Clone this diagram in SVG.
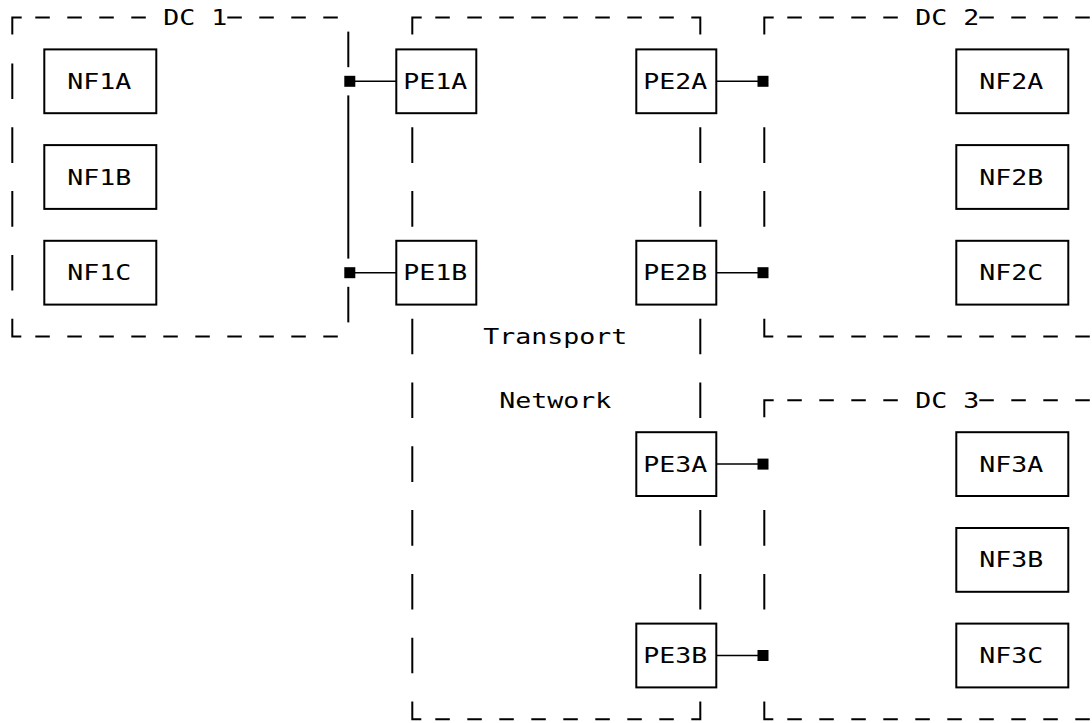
<svg xmlns="http://www.w3.org/2000/svg" width="1092" height="723" viewBox="0 0 1092 723">
<style>
  .bg { fill: #ffffff; }
  .t { font-family: "DejaVu Sans Mono", "Liberation Mono", monospace; font-size: 22px; fill: #000; }
  .ln { stroke: #000; stroke-width: 2; fill: none; stroke-linecap: butt; }
  .hd { stroke: #000; stroke-width: 2; fill: none; stroke-dasharray: 14.5 17.5; }
  .vd { stroke: #000; stroke-width: 2; fill: none; stroke-dasharray: 35.6 28.2; }
  .box { stroke: #000; stroke-width: 2; fill: none; }
  .con { stroke: #000; stroke-width: 1.5; fill: none; }
  .port { fill: #000; }
</style>
<rect class="bg" x="0" y="0" width="1092" height="723"/>

<!-- DC 1 -->
<g id="dc1">
  <path class="ln" d="M21.7,17.5 H12.3 V34.5"/>
  <line class="hd" x1="35.3" y1="17.5" x2="145.8" y2="17.5"/>
  <line class="hd" x1="227.3" y1="17.5" x2="337.8" y2="17.5"/>
  <text class="t" x="163.3" y="25" textLength="64" lengthAdjust="spacingAndGlyphs">DC 1</text>
  <line class="vd" x1="12.3" y1="63.5" x2="12.3" y2="290.5"/>
  <path class="ln" d="M12.3,318.7 V336.5 H21.3"/>
  <line class="hd" x1="35.3" y1="336.5" x2="337.8" y2="336.5"/>
  <line class="ln" x1="348.3" y1="31.6" x2="348.3" y2="67.2"/>
  <line class="ln" x1="348.3" y1="95.4" x2="348.3" y2="258.6"/>
  <line class="ln" x1="348.3" y1="286.8" x2="348.3" y2="322.4"/>
</g>

<g id="nf1a"><rect class="box" x="44.3" y="49.4" width="112" height="63.8"/><text class="t" x="67.3" y="88.8" textLength="64" lengthAdjust="spacingAndGlyphs">NF1A</text></g>
<g id="nf1b"><rect class="box" x="44.3" y="145.1" width="112" height="63.8"/><text class="t" x="67.3" y="184.5" textLength="64" lengthAdjust="spacingAndGlyphs">NF1B</text></g>
<g id="nf1c"><rect class="box" x="44.3" y="240.8" width="112" height="63.8"/><text class="t" x="67.3" y="280.2" textLength="64" lengthAdjust="spacingAndGlyphs">NF1C</text></g>

<!-- Transport network -->
<g id="transport">
  <path class="ln" d="M421.7,17.5 H412.3 V34.5"/>
  <line class="hd" x1="435.3" y1="17.5" x2="673.8" y2="17.5"/>
  <path class="ln" d="M691.3,17.5 H700.3 V34.5"/>
  <line class="vd" x1="412.3" y1="127.3" x2="412.3" y2="226.7"/>
  <line class="vd" x1="412.3" y1="318.7" x2="412.3" y2="673.3"/>
  <line class="vd" x1="700.3" y1="127.3" x2="700.3" y2="226.7"/>
  <line class="vd" x1="700.3" y1="318.7" x2="700.3" y2="418.1"/>
  <line class="vd" x1="700.3" y1="510.1" x2="700.3" y2="609.5"/>
  <path class="ln" d="M412.3,701.5 V719.3 H421.3"/>
  <line class="hd" x1="435.3" y1="719.3" x2="673.8" y2="719.3"/>
  <path class="ln" d="M700.3,701.5 V719.3 H691.3"/>
  <text class="t" x="483.3" y="344" textLength="144" lengthAdjust="spacingAndGlyphs">Transport</text>
  <text class="t" x="499.3" y="407.8" textLength="112" lengthAdjust="spacingAndGlyphs">Network</text>
</g>

<g id="pe1a"><rect class="box" x="396.3" y="49.4" width="80" height="63.8"/><text class="t" x="403.3" y="88.8" textLength="64" lengthAdjust="spacingAndGlyphs">PE1A</text></g>
<g id="pe1b"><rect class="box" x="396.3" y="240.8" width="80" height="63.8"/><text class="t" x="403.3" y="280.2" textLength="64" lengthAdjust="spacingAndGlyphs">PE1B</text></g>
<g id="pe2a"><rect class="box" x="636.3" y="49.4" width="80" height="63.8"/><text class="t" x="643.3" y="88.8" textLength="64" lengthAdjust="spacingAndGlyphs">PE2A</text></g>
<g id="pe2b"><rect class="box" x="636.3" y="240.8" width="80" height="63.8"/><text class="t" x="643.3" y="280.2" textLength="64" lengthAdjust="spacingAndGlyphs">PE2B</text></g>
<g id="pe3a"><rect class="box" x="636.3" y="432.2" width="80" height="63.8"/><text class="t" x="643.3" y="471.6" textLength="64" lengthAdjust="spacingAndGlyphs">PE3A</text></g>
<g id="pe3b"><rect class="box" x="636.3" y="623.6" width="80" height="63.8"/><text class="t" x="643.3" y="663" textLength="64" lengthAdjust="spacingAndGlyphs">PE3B</text></g>

<!-- DC 2 -->
<g id="dc2">
  <path class="ln" d="M773.7,17.5 H764.3 V34.5"/>
  <line class="hd" x1="787.3" y1="17.5" x2="897.8" y2="17.5"/>
  <text class="t" x="915.3" y="25" textLength="64" lengthAdjust="spacingAndGlyphs">DC 2</text>
  <line class="hd" x1="979.3" y1="17.5" x2="1089.8" y2="17.5"/>
  <line class="vd" x1="764.3" y1="127.3" x2="764.3" y2="226.7"/>
  <path class="ln" d="M764.3,318.7 V336.5 H773.3"/>
  <line class="hd" x1="787.3" y1="336.5" x2="1089.8" y2="336.5"/>
</g>

<g id="nf2a"><rect class="box" x="956.3" y="49.4" width="112" height="63.8"/><text class="t" x="979.3" y="88.8" textLength="64" lengthAdjust="spacingAndGlyphs">NF2A</text></g>
<g id="nf2b"><rect class="box" x="956.3" y="145.1" width="112" height="63.8"/><text class="t" x="979.3" y="184.5" textLength="64" lengthAdjust="spacingAndGlyphs">NF2B</text></g>
<g id="nf2c"><rect class="box" x="956.3" y="240.8" width="112" height="63.8"/><text class="t" x="979.3" y="280.2" textLength="64" lengthAdjust="spacingAndGlyphs">NF2C</text></g>

<!-- DC 3 -->
<g id="dc3">
  <path class="ln" d="M773.7,400.3 H764.3 V417.3"/>
  <line class="hd" x1="787.3" y1="400.3" x2="897.8" y2="400.3"/>
  <text class="t" x="915.3" y="407.8" textLength="64" lengthAdjust="spacingAndGlyphs">DC 3</text>
  <line class="hd" x1="979.3" y1="400.3" x2="1089.8" y2="400.3"/>
  <line class="vd" x1="764.3" y1="510.1" x2="764.3" y2="609.5"/>
  <path class="ln" d="M764.3,701.5 V719.3 H773.3"/>
  <line class="hd" x1="787.3" y1="719.3" x2="1089.8" y2="719.3"/>
</g>

<g id="nf3a"><rect class="box" x="956.3" y="432.2" width="112" height="63.8"/><text class="t" x="979.3" y="471.6" textLength="64" lengthAdjust="spacingAndGlyphs">NF3A</text></g>
<g id="nf3b"><rect class="box" x="956.3" y="528.0" width="112" height="63.8"/><text class="t" x="979.3" y="567.3" textLength="64" lengthAdjust="spacingAndGlyphs">NF3B</text></g>
<g id="nf3c"><rect class="box" x="956.3" y="623.6" width="112" height="63.8"/><text class="t" x="979.3" y="663" textLength="64" lengthAdjust="spacingAndGlyphs">NF3C</text></g>

<!-- Connectors -->
<g id="connectors">
  <line class="con" x1="355" y1="81.3" x2="396.3" y2="81.3"/>
  <line class="con" x1="355" y1="272.7" x2="396.3" y2="272.7"/>
  <line class="con" x1="716.3" y1="81.3" x2="758" y2="81.3"/>
  <line class="con" x1="716.3" y1="272.7" x2="758" y2="272.7"/>
  <line class="con" x1="716.3" y1="464.1" x2="758" y2="464.1"/>
  <line class="con" x1="716.3" y1="655.5" x2="758" y2="655.5"/>
  <rect class="port" x="344.3" y="75.8" width="11" height="11"/>
  <rect class="port" x="344.3" y="267.2" width="11" height="11"/>
  <rect class="port" x="757.5" y="75.8" width="11" height="11"/>
  <rect class="port" x="757.5" y="267.2" width="11" height="11"/>
  <rect class="port" x="757.5" y="458.6" width="11" height="11"/>
  <rect class="port" x="757.5" y="650" width="11" height="11"/>
</g>
</svg>
